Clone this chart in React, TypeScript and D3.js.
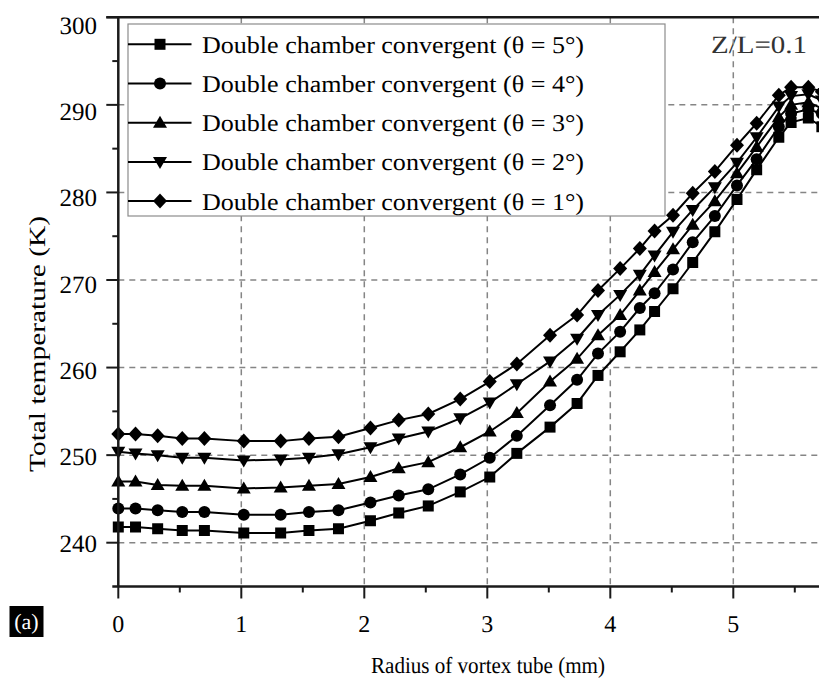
import React from "react";
import * as d3 from "d3";

const RADIUS = [0, 0.14, 0.32, 0.52, 0.70, 1.02, 1.32, 1.55, 1.79, 2.05, 2.28, 2.52, 2.78, 3.02, 3.24, 3.51, 3.73, 3.90, 4.08, 4.24, 4.36, 4.51, 4.67, 4.85, 5.03, 5.19, 5.37, 5.47, 5.61, 5.72];

const T_THETA5 = [241.8, 241.8, 241.6, 241.4, 241.4, 241.1, 241.1, 241.4, 241.6, 242.5, 243.4, 244.2, 245.8, 247.5, 250.2, 253.2, 255.9, 259.1, 261.8, 264.3, 266.4, 269.0, 272.0, 275.5, 279.2, 282.6, 286.3, 288.0, 288.5, 287.5];
const T_THETA4 = [243.9, 243.9, 243.7, 243.5, 243.5, 243.2, 243.2, 243.5, 243.7, 244.6, 245.4, 246.1, 247.8, 249.7, 252.2, 255.7, 258.6, 261.6, 264.1, 266.8, 268.5, 271.2, 274.3, 277.3, 280.8, 283.8, 287.5, 289.0, 289.5, 289.0];
const T_THETA3 = [247.0, 247.0, 246.6, 246.5, 246.5, 246.2, 246.3, 246.5, 246.7, 247.5, 248.5, 249.2, 250.9, 252.7, 254.8, 258.4, 261.0, 263.7, 266.0, 268.8, 270.9, 273.5, 276.3, 279.0, 282.2, 285.2, 288.6, 290.0, 290.3, 289.6];
const T_THETA2 = [250.4, 250.2, 250.0, 249.7, 249.7, 249.4, 249.5, 249.7, 250.1, 250.9, 251.9, 252.7, 254.2, 256.0, 258.1, 260.7, 263.3, 266.0, 268.3, 270.6, 272.8, 275.5, 278.0, 280.6, 283.4, 286.3, 289.8, 291.0, 291.2, 290.5];
const T_THETA1 = [252.4, 252.4, 252.2, 251.9, 251.9, 251.6, 251.6, 251.9, 252.1, 253.1, 254.0, 254.7, 256.4, 258.4, 260.4, 263.7, 266.0, 268.8, 271.3, 273.6, 275.6, 277.4, 279.9, 282.4, 285.4, 287.9, 291.1, 292.0, 292.0, 291.5];

const SERIES_LABELS = [
  "Double chamber convergent (θ = 5°)",
  "Double chamber convergent (θ = 4°)",
  "Double chamber convergent (θ = 3°)",
  "Double chamber convergent (θ = 2°)",
  "Double chamber convergent (θ = 1°)",
];
const SERIES_VALUES = [T_THETA5, T_THETA4, T_THETA3, T_THETA2, T_THETA1];
const SERIES_MARKERS = ["square", "circle", "triangleUp", "triangleDown", "diamond"];

const X_TICKS = [0, 1, 2, 3, 4, 5];
const X_MINOR = [0.5, 1.5, 2.5, 3.5, 4.5, 5.5];
const Y_TICKS = [240, 250, 260, 270, 280, 290, 300];
const Y_MINOR = [245, 255, 265, 275, 285, 295];
const GRID_X = [1, 2, 3, 4, 5];
const GRID_Y = [240, 250, 260, 270, 280, 290];

const FONT = "'Liberation Serif', 'Times New Roman', serif";

function markerPath(kind: string): string {
  switch (kind) {
    case "square":
      return "M-5.5,-5.5H5.5V5.5H-5.5Z";
    case "circle":
      return "M6,0A6,6 0 1,1 -6,0A6,6 0 1,1 6,0Z";
    case "triangleUp":
      return "M0,-7L7,5H-7Z";
    case "triangleDown":
      return "M0,7L7,-5H-7Z";
    case "diamond":
    default:
      return "M0,-7.5L7,0L0,7.5L-7,0Z";
  }
}

export default function App() {
  const x = d3.scaleLinear().domain([0, 5]).range([118.3, 733.3]);
  const y = d3.scaleLinear().domain([240, 270]).range([542.7, 280]);
  const yLabel = d3.scaleLinear().domain([240, 300]).range([543, 25]);
  const xAxisY = y(235);
  const yAxisX = x(0);
  const topY = y(300);
  const W = 819;

  const line = d3
    .line<number>()
    .x((_, i) => x(RADIUS[i]))
    .y((d) => y(d));

  return (
    <svg
      width={W}
      height={684}
      style={{ position: "absolute", left: 0, top: 0, background: "#fff" }}
      fontFamily={FONT}
      textRendering="geometricPrecision"
    >
      <defs>
        <clipPath id="plotclip">
          <rect x={yAxisX - 8} y={topY} width={W} height={xAxisY - topY} />
        </clipPath>
      </defs>
      <rect x={0} y={0} width={W} height={684} fill="#fff" />

      {/* Z/L label */}
      <text x={711} y={53} fontSize={25} fill="#333" textLength={96} lengthAdjust="spacingAndGlyphs">
        Z/L=0.1
      </text>

      {/* grid */}
      <g stroke="#858585" strokeWidth={1.5} strokeDasharray="6,5">
        {GRID_X.map((v) => (
          <line key={"gx" + v} x1={x(v)} x2={x(v)} y1={topY} y2={xAxisY} />
        ))}
        {GRID_Y.map((v) => (
          <line key={"gy" + v} x1={yAxisX} x2={W} y1={y(v)} y2={y(v)} />
        ))}
      </g>

      {/* series */}
      <g clipPath="url(#plotclip)">
        {SERIES_VALUES.map((vals, si) => (
          <g key={"s" + si}>
            <path d={line(vals) || ""} fill="none" stroke="#000" strokeWidth={2} />
            {vals.map((v, i) => (
              <path
                key={i}
                d={markerPath(SERIES_MARKERS[si])}
                transform={`translate(${x(RADIUS[i])},${y(v)})`}
                fill="#000"
              />
            ))}
          </g>
        ))}
      </g>

      {/* legend */}
      <g>
        <rect x={128} y={24} width={537} height={192} fill="#fff" stroke="#8c8c8c" strokeWidth={1.2} />
        {SERIES_LABELS.map((lab, i) => {
          const ly = 44.3 + i * 39.2;
          return (
            <g key={"l" + i}>
              <line x1={128} x2={191.5} y1={ly} y2={ly} stroke="#000" strokeWidth={2} />
              <path d={markerPath(SERIES_MARKERS[i])} transform={`translate(160,${ly})`} fill="#000" />
              <text x={202} y={ly + 8.5} fontSize={24} fill="#000" textLength={382} lengthAdjust="spacingAndGlyphs">
                {lab}
              </text>
            </g>
          );
        })}
      </g>

      {/* axes */}
      <g stroke="#1a1a1a">
        <line x1={yAxisX} x2={yAxisX} y1={topY} y2={xAxisY} strokeWidth={2.5} />
        <line x1={yAxisX - 6} x2={W} y1={xAxisY} y2={xAxisY} strokeWidth={2.5} />
        <line x1={yAxisX - 12} x2={W} y1={topY} y2={topY} strokeWidth={2.5} />
        {Y_TICKS.map((v) => (
          <line key={"yt" + v} x1={yAxisX - 12} x2={yAxisX} y1={y(v)} y2={y(v)} strokeWidth={2} />
        ))}
        {Y_MINOR.map((v) => (
          <line key={"ym" + v} x1={yAxisX - 6} x2={yAxisX} y1={y(v)} y2={y(v)} strokeWidth={2} />
        ))}
        {X_TICKS.map((v) => (
          <line key={"xt" + v} x1={x(v)} x2={x(v)} y1={xAxisY} y2={xAxisY + 12} strokeWidth={2} />
        ))}
        {X_MINOR.map((v) => (
          <line key={"xm" + v} x1={x(v)} x2={x(v)} y1={xAxisY} y2={xAxisY + 6} strokeWidth={2} />
        ))}
      </g>

      {/* tick labels */}
      {Y_TICKS.map((v) => (
        <text key={"yl" + v} x={97} y={yLabel(v)} dy="0.35em" textAnchor="end" fontSize={25} fill="#000">
          {v}
        </text>
      ))}
      {X_TICKS.map((v) => (
        <text key={"xl" + v} x={x(v)} y={632} textAnchor="middle" fontSize={24} fill="#000">
          {v}
        </text>
      ))}

      {/* axis titles */}
      <text x={488} y={673} textAnchor="middle" fontSize={23} fill="#000" textLength={234} lengthAdjust="spacingAndGlyphs">
        Radius of vortex tube (mm)
      </text>
      <text
        transform={`translate(45,${344}) rotate(-90)`}
        textAnchor="middle"
        fontSize={23}
        fill="#000"
        textLength={256}
        lengthAdjust="spacingAndGlyphs"
      >
        Total temperature (K)
      </text>

      {/* panel label */}
      <rect x={9.5} y={606} width={34} height={31} fill="#000" />
      <text x={26.5} y={629} textAnchor="middle" fontSize={22} fill="#fff">
        (a)
      </text>
    </svg>
  );
}
